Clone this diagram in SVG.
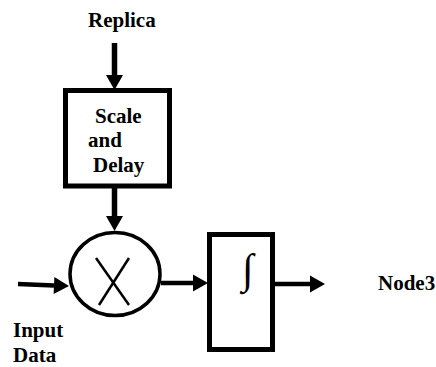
<svg xmlns="http://www.w3.org/2000/svg" width="436" height="367" viewBox="0 0 436 367">
<style>
text{font-family:"Liberation Serif","Times New Roman",serif;font-weight:bold;font-size:21px;fill:#000}
.box{fill:#fff;stroke:#000;stroke-width:5}
.conn{stroke:#000;fill:none;marker-end:url(#ah)}
</style>
<defs>
<marker id="ah" markerUnits="userSpaceOnUse" markerWidth="16" markerHeight="17" refX="0" refY="8.5" orient="auto" overflow="visible">
<path d="M0,0 L15,8.5 L0,17 Z" fill="#000"/>
</marker>
</defs>
<rect width="436" height="367" fill="#fff"/>
<g id="connectors">
<line class="conn" x1="114.5" y1="43" x2="114.5" y2="75" stroke-width="5.5"/>
<line class="conn" x1="114.5" y1="188" x2="114.5" y2="216" stroke-width="5.5"/>
<line class="conn" x1="18" y1="284" x2="54" y2="285.5" stroke-width="4.5"/>
<line class="conn" x1="161" y1="283" x2="193" y2="283" stroke-width="4.5"/>
<line class="conn" x1="275" y1="284" x2="310" y2="284" stroke-width="4.5"/>
</g>
<g id="replica"><text x="88" y="27">Replica</text></g>
<g id="scale_delay">
<rect class="box" x="65.5" y="90.5" width="104" height="95.5"/>
<text x="95" y="123">Scale</text>
<text x="88" y="147">and</text>
<text x="93" y="172">Delay</text>
</g>
<g id="multiplier">
<ellipse cx="115" cy="274" rx="45" ry="41.5" fill="#fff" stroke="#000" stroke-width="3.5"/>
<line x1="96" y1="258" x2="129" y2="305" stroke="#000" stroke-width="2.5"/>
<line x1="129" y1="258" x2="99" y2="305" stroke="#000" stroke-width="2.5"/>
</g>
<g id="integrator">
<rect class="box" x="209.5" y="234.5" width="63" height="115"/>
<text x="242" y="283" style="font-weight:normal;font-size:42px">∫</text>
</g>
<g id="input_data">
<text x="13" y="337">Input</text>
<text x="13" y="362">Data</text>
</g>
<g id="node3"><text x="378" y="290">Node3</text></g>
</svg>
